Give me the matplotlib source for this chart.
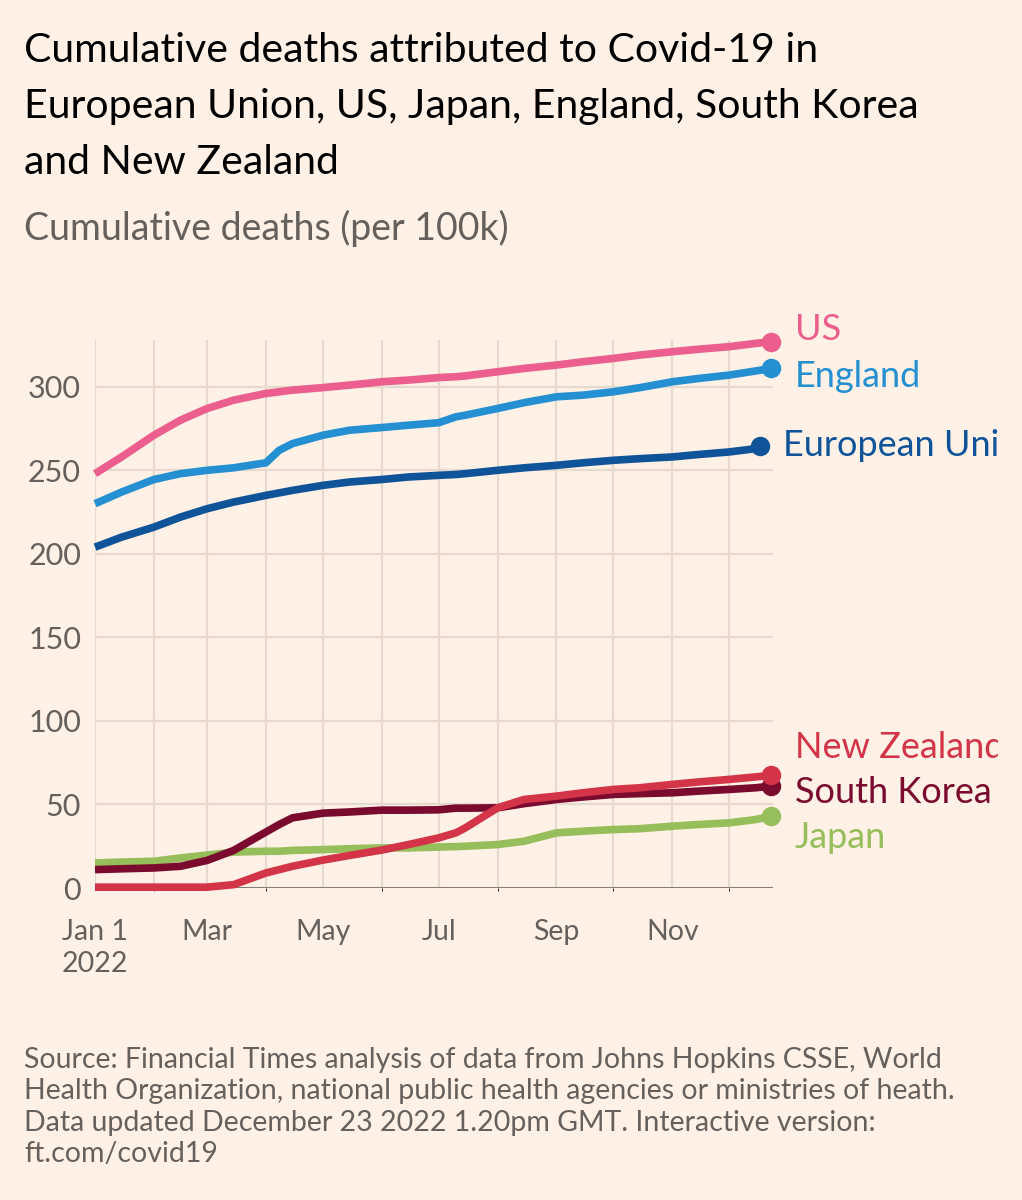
import numpy as np
import pandas as pd
import matplotlib
matplotlib.use("Agg")
import matplotlib.pyplot as plt
import matplotlib.dates as mdates
from matplotlib.transforms import Bbox, TransformedBbox

plt.rcParams['font.family'] = ['Lato', 'DejaVu Sans']

# data (deaths per 100k), roughly twice a month
dates = pd.to_datetime([
    "2022-01-01", "2022-01-15", "2022-02-01", "2022-02-15", "2022-03-01",
    "2022-03-15", "2022-04-01", "2022-04-08", "2022-04-15", "2022-05-01",
    "2022-05-15", "2022-06-01", "2022-06-15", "2022-07-01", "2022-07-10",
    "2022-07-15", "2022-08-01", "2022-08-15", "2022-09-01", "2022-09-15",
    "2022-10-01", "2022-10-15", "2022-11-01", "2022-11-15", "2022-12-01",
    "2022-12-15", "2022-12-23",
])
# EU series is a few days behind
eu_dates = dates[:-1].append(pd.to_datetime(["2022-12-17"]))

us = [248, 258, 271, 280, 287, 292, 296, 297, 298, 299.5,
      301, 303, 304, 305.5, 306, 306.5, 309, 311, 313, 315,
      317, 319, 321, 322.5, 324, 326, 327]
england = [230, 237, 244.5, 248, 250, 251.5, 254.5, 262, 266, 271,
           274, 275.6, 277, 278.5, 282, 283, 287, 290.5, 294, 295,
           297, 299.5, 303, 305, 307, 309.5, 311]
eu = [204, 210, 216, 222, 227, 231, 235, 236.5, 238, 241,
      243, 244.5, 246, 247, 247.5, 248, 250, 251.5, 253, 254.5,
      256, 257, 258, 259.5, 261, 263, 264.5]
south_korea = [11, 11.5, 12, 13, 16.5, 22.5, 33.5, 38, 42, 44.8,
               45.5, 46.6, 46.6, 46.8, 47.8, 47.8, 48, 50.5, 53, 54.5,
               56, 56.5, 57, 58, 59, 60, 61]
new_zealand = [0.5, 0.5, 0.5, 0.5, 0.5, 2, 9, 11, 13, 16.7,
               19.5, 22.7, 26, 30, 33, 36, 48, 53, 55, 57,
               59, 60, 62, 63.5, 65, 66.5, 67.5]
japan = [15, 15.5, 16, 18, 19.7, 21.5, 22, 22, 22.5, 23,
         23.5, 24, 24, 24.5, 24.8, 25, 26, 28, 33, 34,
         35, 35.5, 37, 38, 39, 41, 43]

names = ["US", "England", "European Union", "New Zealand", "South Korea", "Japan"]
series = [us, england, eu, new_zealand, south_korea, japan]
series_dates = [dates, dates, eu_dates, dates, dates, dates]
colors = ["#EB5E8D", "#2490D2", "#0F5499", "#D33448", "#7A0A2E", "#96BE5A"]
label_y = [334, 306, 265, 84, 57, 30]

yticks = [0, 50, 100, 150, 200, 250, 300]
xtick_dates = ["2022-01-01", "2022-03-01", "2022-05-01",
               "2022-07-01", "2022-09-01", "2022-11-01"]
xtick_labels = ["Jan 1\n2022", "Mar", "May", "Jul", "Sep", "Nov"]

bg = "#FFF1E5"
grey = "#66605C"

fig = plt.figure(figsize=(10.22, 12), dpi=100, facecolor=bg)
ax = fig.add_axes([95 / 1022, 1 - 888 / 1200, 678 / 1022, 548 / 1200])
ax.set_facecolor(bg)

# draw order: back to front like the original
order = [5, 4, 3, 2, 1, 0]
for i in order:
    ax.plot(series_dates[i], series[i], color=colors[i], lw=5.5,
            solid_capstyle="butt", clip_on=False, zorder=3)
for i in order:
    ax.plot(series_dates[i][-1], series[i][-1], "o", color=colors[i], ms=13,
            clip_on=False, zorder=4)

ax.set_xlim(pd.Timestamp("2022-01-01"), pd.Timestamp("2022-12-24"))
ax.set_ylim(0, 328)
ax.set_yticks(yticks)
ax.set_yticklabels([str(v) for v in yticks])

ax.xaxis.set_minor_locator(mdates.MonthLocator())
ax.set_xticks(pd.to_datetime(xtick_dates))
ax.set_xticklabels(xtick_labels, linespacing=1.3, va="top")
ax.tick_params(axis="both", length=0, colors=grey)
ax.tick_params(axis="y", pad=10, labelsize=22)
ax.tick_params(axis="x", pad=22, labelsize=20.5)

ax.grid(True, which="both", axis="x", color="#E6D9CE", lw=1.6)
ax.grid(True, axis="y", color="#E6D9CE", lw=1.6)
ax.set_axisbelow(True)
for s in ax.spines.values():
    s.set_visible(False)
ax.axhline(0, color=grey, lw=1.8, zorder=2)

# end labels, cut at the right edge as in the original
clip = TransformedBbox(Bbox([[0, 0], [998 / 1022, 1]]), fig.transFigure)
for i in range(len(names)):
    t = ax.annotate(names[i], xy=(series_dates[i][-1], label_y[i]),
                    xytext=(17, 0), textcoords="offset points",
                    color=colors[i], fontsize=26, va="center", ha="left",
                    annotation_clip=False)
    t.set_clip_on(True)
    t.set_clip_box(clip)

fig.text(24 / 1022, 1 - 32 / 1200,
         "Cumulative deaths attributed to Covid-19 in\n"
         "European Union, US, Japan, England, South Korea\n"
         "and New Zealand",
         fontsize=29.5, color="#000000", va="top", ha="left", linespacing=1.64)
fig.text(24 / 1022, 1 - 228 / 1200, "Cumulative deaths (per 100k)",
         fontsize=27, color=grey, va="center", ha="left")
fig.text(24 / 1022, 1 - 1047 / 1200,
         "Source: Financial Times analysis of data from Johns Hopkins CSSE, World\n"
         "Health Organization, national public health agencies or ministries of heath.\n"
         "Data updated December 23 2022 1.20pm GMT. Interactive version:\n"
         "ft.com/covid19",
         fontsize=20.5, color=grey, va="top", ha="left", linespacing=1.25)

fig.savefig("out.png", dpi=100, facecolor=bg)
